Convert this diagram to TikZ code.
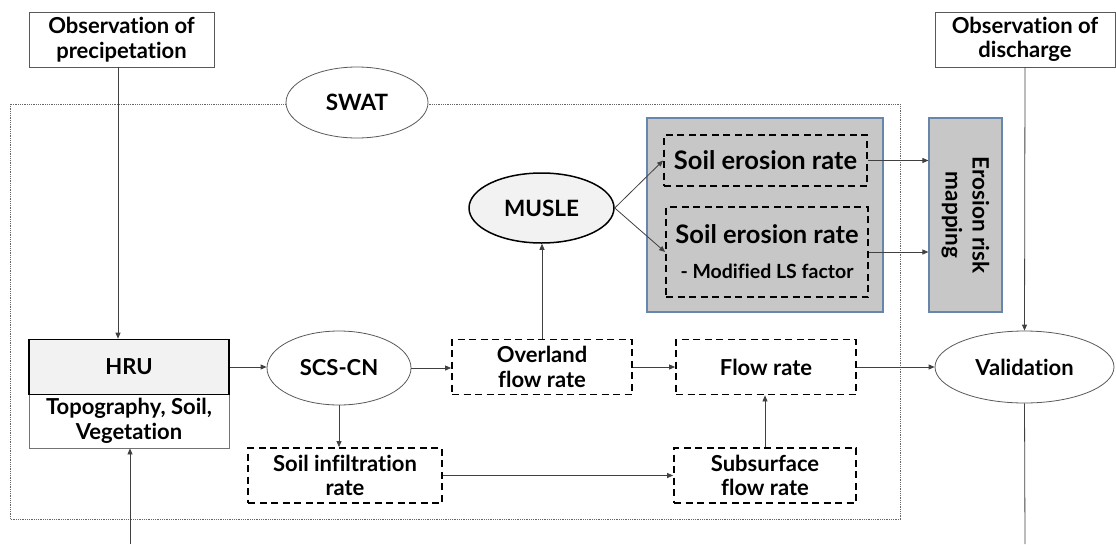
\documentclass[tikz,border=0pt]{standalone}
\usepackage{fontspec}
\setmainfont{Lato}[Ligatures=CommonOff]
\usetikzlibrary{positioning, shapes.geometric, arrows.meta}
\definecolor{boxblue}{RGB}{104,134,172}
\definecolor{linegray}{RGB}{64,64,64}

\begin{document}
\begin{tikzpicture}[x=1pt, y=-1pt,
	base/.style={font=\bfseries\fontsize{22}{24.5}\selectfont, align=center, inner sep=0pt},
	bigtext/.style={font=\bfseries\fontsize{22.5}{27}\selectfont},
	erotext/.style={font=\bfseries\fontsize{25.5}{35}\selectfont},
	obsbox/.style={base, draw=black!65, line width=0.9pt, minimum width=185pt, minimum height=55pt},
	ratebox/.style={base, draw, line width=1.8pt, dash pattern=on 7pt off 4.5pt, minimum height=55pt},
	oval/.style={base, ellipse, draw=black!65, line width=0.8pt, fill=white},
	graybox/.style={draw=boxblue, line width=1.2pt, fill=black!22},
	arr/.style={-{Triangle[length=6pt, width=5pt]}, draw=linegray, line width=0.8pt},
	link/.style={draw=linegray, line width=0.8pt}]
	\useasboundingbox (0,0) rectangle (1116,544);
	\draw[densely dotted, black!60, line width=0.8pt] (10,104) rectangle (900,519);
	\node[obsbox] (obsp) at (121.5,39.5) {Observation of\\precipetation};
	\node[obsbox, minimum width=180pt] (obsd) at (1025,39.5) {Observation of\\discharge};
	\node[oval, bigtext, minimum width=142pt, minimum height=71pt] (swat) at (357,102.5) {SWAT};
	\node[base, draw=black!55, line width=0.8pt, minimum width=200pt, minimum height=54pt, font=\bfseries\fontsize{22}{25}\selectfont] (hrub) at (129,421) {Topography, Soil,\\Vegetation};
	\node[base, draw, line width=1.6pt, fill=black!5, minimum width=200pt, minimum height=55pt] (hru) at (129,367) {HRU};
	\node[oval, minimum width=144pt, minimum height=74pt] (scs) at (339,368) {SCS-CN};
	\node[ratebox, minimum width=180pt] (over) at (542,367) {Overland\\flow rate};
	\node[ratebox, minimum width=194pt] (infil) at (345,475.5) {Soil infiltration\\rate};
	\node[ratebox, minimum width=180pt] (flow) at (766,367) {Flow rate};
	\node[ratebox, minimum width=182pt] (sub) at (765,475.5) {Subsurface\\flow rate};
	\node[oval, bigtext, draw=black, line width=1.5pt, fill=black!5, minimum width=145pt, minimum height=70pt] (musle) at (541.5,208) {MUSLE};
	\node[graybox, minimum width=236pt, minimum height=194pt] (erobox) at (765,215) {};
	\node[ratebox, erotext, minimum width=203pt, minimum height=51pt] (ero1) at (765.5,160.5) {Soil erosion rate};
	\node[ratebox, erotext, minimum width=202pt, minimum height=90pt] (ero2) at (767,252) {Soil erosion rate\\{\fontsize{19.5}{35}\selectfont - Modified LS factor}};
	\node[graybox, base, bigtext, rotate=-90, minimum width=194pt, minimum height=73pt] (map) at (965.5,215) {Erosion risk\\mapping};
	\node[oval, minimum width=179pt, minimum height=72pt] (val) at (1024.5,367) {Validation};
	\coordinate (hruin) at (130,544);
	\coordinate (valout) at (1025,544);
	\draw[arr] ([xshift=-3.5pt]obsp.south) -- ([xshift=-3.5pt]obsp.south |- hru.north);
	\draw[arr] (hruin) -- (hruin |- hrub.south);
	\draw[arr] (hru.east) -- (hru.east -| scs.west);
	\draw[arr] (scs.east) -- (scs.east -| over.west);
	\draw[arr] (scs.south) -- (scs.south |- infil.north);
	\draw[arr] (infil.east) -- (infil.east -| sub.west);
	\draw[arr] (sub.north) -- (sub.north |- flow.south);
	\draw[arr] (over.east) -- (over.east -| flow.west);
	\draw[arr] (flow.east) -- (flow.east -| val.west);
	\draw[arr] (over.north) -- (over.north |- musle.south);
	\draw[arr] (musle.east) -- (ero1.west);
	\draw[arr] (musle.east) -- (ero2.west);
	\draw[arr] (ero1.east) -- (ero1.east -| map.south);
	\draw[arr] (ero2.east) -- (ero2.east -| map.south);
	\draw[arr] (obsd.south) -- (val.north);
	\draw[link] (val.south) -- (valout);
\end{tikzpicture}
\end{document}
